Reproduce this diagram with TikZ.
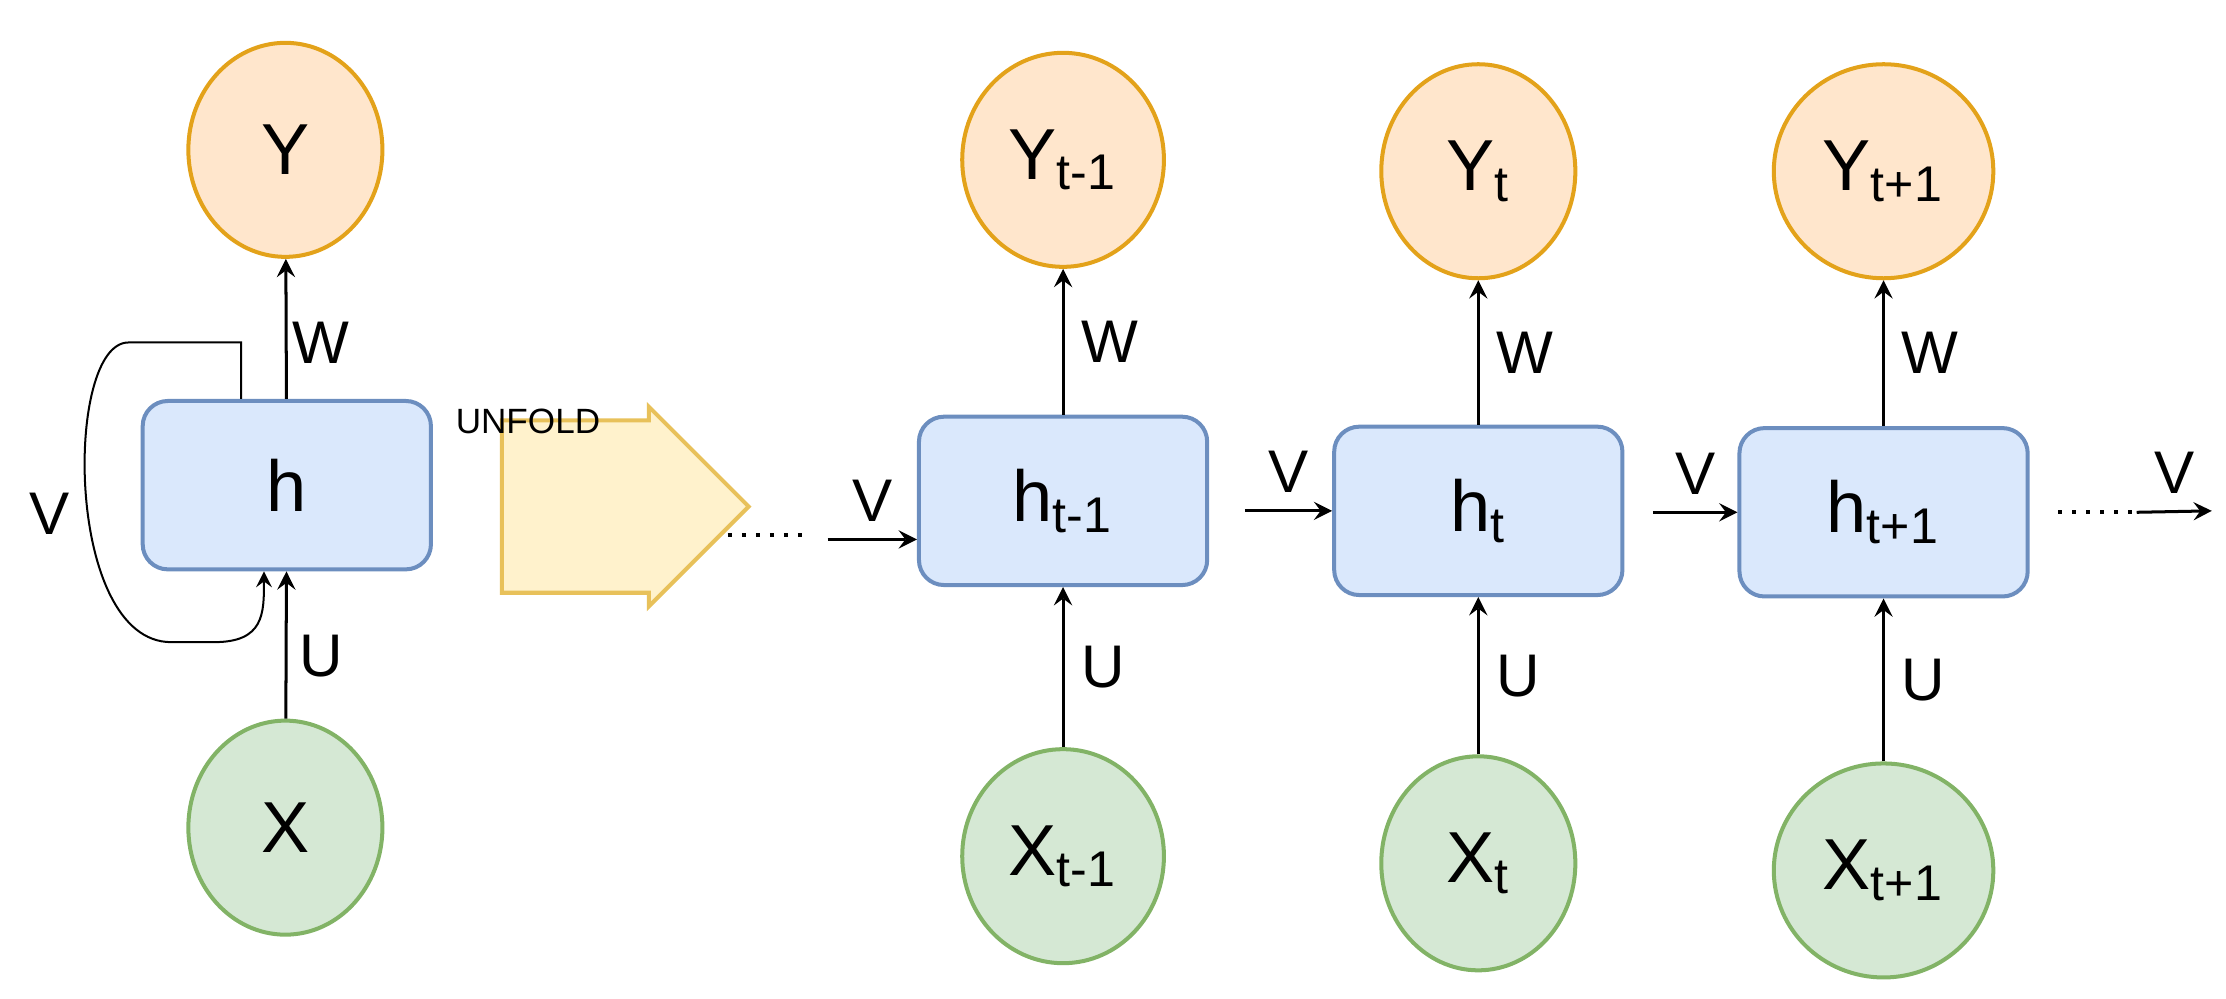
\documentclass[tikz,border=0pt]{standalone}
\usepackage{amsmath}
\usepackage{fontspec}
\setmainfont{Liberation Sans}
\usetikzlibrary{arrows, shapes.geometric, shapes.arrows}
\definecolor{ofill}{HTML}{FFE6CC}
\definecolor{odraw}{HTML}{E3A21A}
\definecolor{gfill}{HTML}{D5E8D4}
\definecolor{gdraw}{HTML}{82B366}
\definecolor{bfill}{HTML}{DAE8FC}
\definecolor{bdraw}{HTML}{6C8EBF}
\definecolor{afill}{HTML}{FFF2CC}
\definecolor{adraw}{HTML}{E8C15A}
\begin{document}
\begin{tikzpicture}[
            > = stealth, % arrow head style
            semithick % line style
        ]

        \tikzstyle{outnode}=[ellipse, draw = odraw, fill = ofill, thick,
            minimum width = 1.36cm, minimum height = 1.5cm, font=\Large]
        \tikzstyle{innode}=[ellipse, draw = gdraw, fill = gfill, thick,
            minimum width = 1.36cm, minimum height = 1.5cm, font=\Large]
        \tikzstyle{cell}=[rectangle, rounded corners = 5pt, draw = bdraw, fill = bfill, thick,
            minimum width = 2.02cm, minimum height = 1.18cm, font=\Large]
        \tikzstyle{lbl}=[font=\large]

        \useasboundingbox (0,0) rectangle (15.6,7.0);

        % folded network
        \node[outnode] (y) [at={(2.0,5.95)}] {Y};
        \node[cell] (h) [at={(2.01,3.6)}] {h};
        \node[innode] (x) [at={(2.0,1.2)}] {X};
        \path[->] (h) edge (y);
        \path[->] (x) edge (h);
        \draw[->, thin] ([xshift=-0.32cm]h.north) |- (1.4,4.6) -- (0.9,4.6)
            .. controls (0.45,4.6) and (0.45,2.5) .. (1.2,2.5) -- (1.5,2.5)
            .. controls (1.85,2.5) and (1.85,2.7) .. ([xshift=-0.16cm]h.south);
        \node[lbl] (v0) [at={(0.35,3.4)}] {V};
        \node[lbl] (w0) [at={(2.25,4.6)}] {W};
        \node[lbl] (u0) [at={(2.25,2.4)}] {U};

        % unfold arrow
        \node[single arrow, draw = adraw, fill = afill, thick, minimum height = 1.73cm,
            minimum width = 1.4cm, single arrow head extend = 0.05cm, inner sep = 0.3cm] (fold) [at={(4.08,3.45)}] {};
        \node[font=\scriptsize] (unfold) [at={(3.7,4.05)}] {UNFOLD};

        % unfolded network
        \node[outnode] (y1) [at={(7.45,5.88)}] {Y$_{\text{t-1}}$};
        \node[cell] (h1) [at={(7.45,3.49)}] {h$_{\text{t-1}}$};
        \node[innode] (x1) [at={(7.45,1.0)}] {X$_{\text{t-1}}$};
        \node[outnode] (y2) [at={(10.36,5.8)}] {Y$_{\text{t}}$};
        \node[cell] (h2) [at={(10.36,3.42)}] {h$_{\text{t}}$};
        \node[innode] (x2) [at={(10.36,0.95)}] {X$_{\text{t}}$};
        \node[outnode] (y3) [at={(13.2,5.8)}] {Y$_{\text{t+1}}$};
        \node[cell] (h3) [at={(13.2,3.41)}] {h$_{\text{t+1}}$};
        \node[innode] (x3) [at={(13.2,0.9)}] {X$_{\text{t+1}}$};

        \path[->] (h1) edge node[lbl, right] {W} (y1);
        \path[->] (x1) edge node[lbl, right] {U} (h1);
        \path[->] (h2) edge node[lbl, right] {W} (y2);
        \path[->] (x2) edge node[lbl, right] {U} (h2);
        \path[->] (h3) edge node[lbl, right] {W} (y3);
        \path[->] (x3) edge node[lbl, right] {U} (h3);

        \coordinate (d0) at (5.1,3.25);
        \coordinate (s0) at (5.8,3.22);
        \draw[dotted, thick] (d0) -- ++(0.55,0);
        \path[->] (s0) edge node[lbl, above] {V} (h1.west |- s0);
        \path[->] ([xshift=0.25cm]h1.east |- h2.west) edge node[lbl, above] {V} (h2.west);
        \path[->] ([xshift=0.2cm]h2.east |- h3.west) edge node[lbl, above] {V} (h3.west);
        \coordinate (e3) at (15.5,3.42);
        \draw[dotted, thick] ([xshift=0.2cm]h3.east) -- ++(0.55,0);
        \path[->] ([xshift=0.75cm]h3.east) edge node[lbl, above] {V} (e3);
\end{tikzpicture}
\end{document}
